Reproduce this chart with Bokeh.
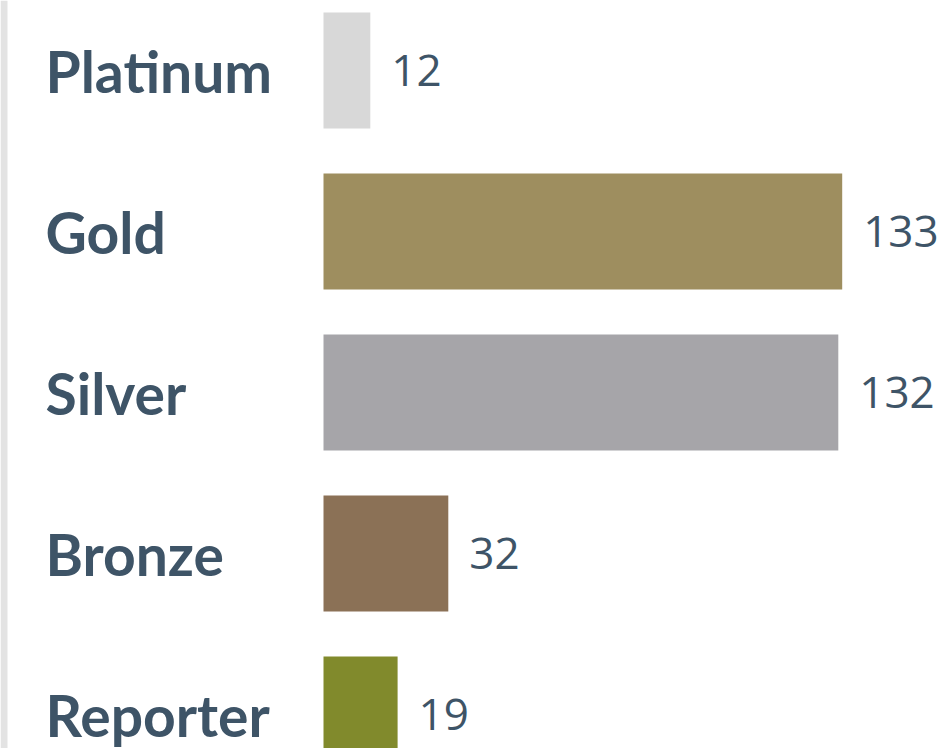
from bokeh.plotting import figure
from bokeh.models import ColumnDataSource, Range1d, BoxAnnotation
from bokeh.core.properties import value
from bokeh.embed import file_html
from bokeh.resources import INLINE

categories = ["Platinum", "Gold", "Silver", "Bronze", "Reporter"]
counts = [12, 133, 132, 32, 19]
colors = ["#d8d8d8", "#9e8e5f", "#a6a5a9", "#8b7156", "#818a2c"]

pos = list(range(len(categories)))
src = ColumnDataSource(dict(cat=categories, y=pos, v=counts, c=colors,
                            lab=[str(v) for v in counts]))

W, H = 941, 748
px_per_unit = 3.9
x0_px = 323  # pixel of value 0 within the plot
x_start = -x0_px / px_per_unit
x_end = x_start + W / px_per_unit
pitch = 161.0
first_center = 70.0
y_top = -first_center / pitch
y_bottom = y_top + H / pitch

p = figure(width=W, height=H, output_backend="svg", toolbar_location=None,
           x_range=Range1d(x_start, x_end), y_range=Range1d(y_bottom, y_top),
           min_border=0, outline_line_color=None)
p.axis.visible = False
p.grid.visible = False
p.background_fill_color = "white"
p.border_fill_color = "white"

p.add_layout(BoxAnnotation(left=0, right=7, left_units="screen",
                           right_units="screen", fill_color="#e3e3e3",
                           fill_alpha=1.0, line_color=None))

p.hbar(y="y", left=0, right="v", height=116 / pitch, fill_color="c",
       line_color=None, source=src)

p.text(x=0, y="y", text="cat", x_offset=-278, text_align="left",
       text_baseline="middle", text_font=value("Lato"), text_font_style="bold",
       text_font_size="57px", text_color="#3e5467", source=src)

p.text(x="v", y="y", text="lab", x_offset=21, text_align="left",
       text_baseline="middle", text_font=value("Open Sans"),
       text_font_size="44px", text_color="#3e5467", source=src)

open("out.html", "w").write(file_html(p, INLINE))
